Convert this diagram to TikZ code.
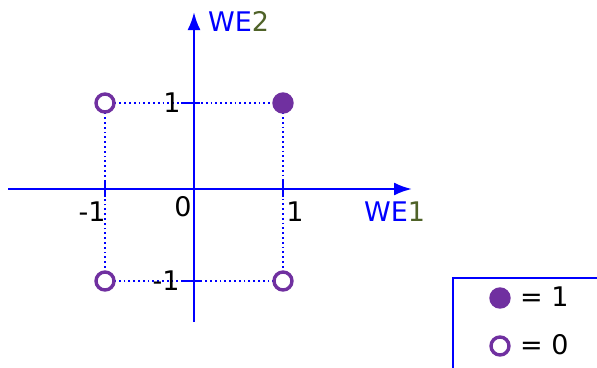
\documentclass[tikz,border=0pt]{standalone}
\usepackage{fontspec}
\setmainfont{DejaVu Sans}
\usetikzlibrary{arrows.meta}
\definecolor{axisblue}{RGB}{0,0,255}
\definecolor{dotpurple}{HTML}{7030A0}
\definecolor{olivenum}{HTML}{4F6228}
\begin{document}
\begin{tikzpicture}[x=1pt,y=-1pt,
  axis/.style={axisblue,line width=2.4pt,-{Latex[length=18pt,width=13pt]}},
  tick/.style={axisblue,line width=2.4pt},
  guide/.style={axisblue,line width=1.8pt,dash pattern=on 1.8pt off 3pt},
  one/.style={circle,fill=dotpurple,draw=dotpurple,line width=3.4pt,minimum size=18pt,inner sep=0pt},
  zero/.style={circle,fill=white,draw=dotpurple,line width=3.4pt,minimum size=18pt,inner sep=0pt},
  lbl/.style={font=\fontsize{27}{31}\selectfont,inner sep=0pt},
  ]
\useasboundingbox (0,0) rectangle (597,367);
% legend frame (runs off the lower right)
\draw[axisblue,line width=1.6pt] (453,380) -- (453,278) -- (610,278);
% coordinate origin and axis ends
\coordinate (O) at (194,189);
\coordinate (xs) at (8,189);
\coordinate (xe) at (412,189);
\coordinate (ys) at (194,322);
\coordinate (ye) at (194,12);
% dotted guides between the four inputs
\coordinate (p11) at (283,103);
\coordinate (p01) at (105,103);
\coordinate (p00) at (105,281);
\coordinate (p10) at (283,281);
\draw[guide] (p01) -- (p11) -- (p10) -- (p00) -- cycle;
% axes
\draw[axis] (xs) -- (xe);
\draw[axis] (ys) -- (ye);
% ticks
\coordinate (tx1) at (283,189);
\coordinate (txm) at (105,189);
\coordinate (ty1) at (194,103);
\coordinate (tym) at (194,281);
\draw[tick] ([yshift=-8]tx1) -- ([yshift=8]tx1);
\draw[tick] ([yshift=-8]txm) -- ([yshift=8]txm);
\draw[tick] ([xshift=-13]ty1) -- ([xshift=6]ty1);
\draw[tick] ([xshift=-13]tym) -- ([xshift=6]tym);
% input points
\node[zero] (n01) at (p01) {};
\node[one]  (n11) at (p11) {};
\node[zero] (n00) at (p00) {};
\node[zero] (n10) at (p10) {};
% axis labels
\node[lbl,anchor=west] (we2) at (208,21) {\textcolor{axisblue}{WE}\textcolor{olivenum}{2}};
\node[lbl,anchor=west] (we1) at (364,212) {\textcolor{axisblue}{WE}\textcolor{olivenum}{1}};
% tick labels
\node[lbl] (l0) at (183,207) {0};
\node[lbl] (lx1) at (295,212) {1};
\node[lbl] (lxm) at (92,212) {-1};
\node[lbl] (ly1) at (172,103) {1};
\node[lbl] (lym) at (166,281) {-1};
% legend
\node[one]  (k1) at (500,298) {};
\node[zero] (k0) at (500,346) {};
\node[lbl,anchor=west] (t1) at (520,297) {= 1};
\node[lbl,anchor=west] (t0) at (520,345) {= 0};
\end{tikzpicture}
\end{document}
